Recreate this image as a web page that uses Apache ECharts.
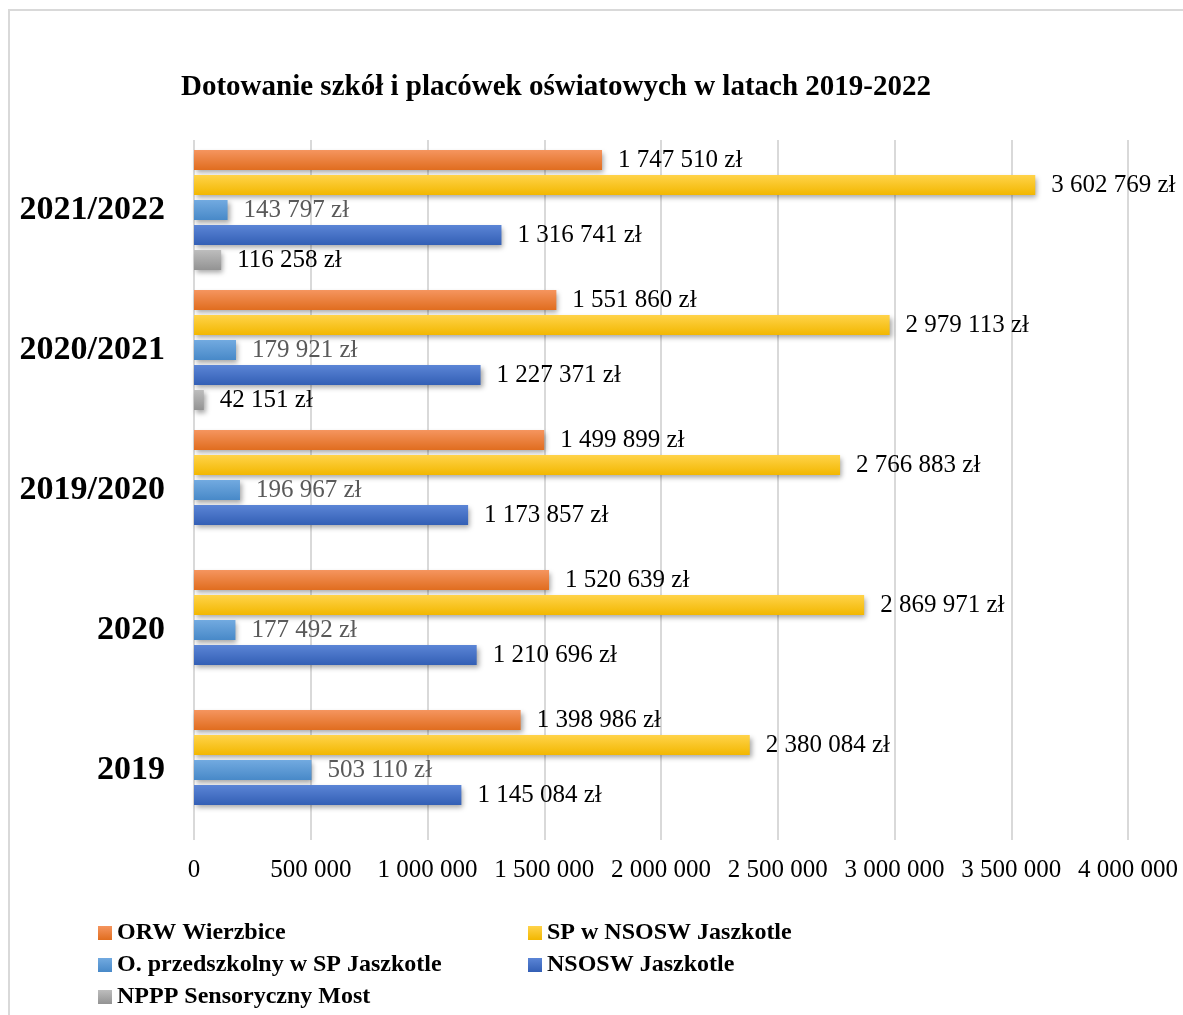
<!DOCTYPE html>
<html>
<head>
<meta charset="utf-8">
<script src="https://cdn.jsdelivr.net/npm/echarts@6/dist/echarts.min.js"></script>
<style>
  html, body { margin: 0; padding: 0; background: #fff; }
  #chart { width: 1183px; height: 1015px; }
</style>
</head>
<body>
<div id="chart"></div>
<script>
const categories = ['2019', '2020', '2019/2020', '2020/2021', '2021/2022'];
const seriesNames = ['ORW Wierzbice', 'SP w NSOSW Jaszkotle', 'O. przedszkolny w SP Jaszkotle', 'NSOSW Jaszkotle', 'NPPP Sensoryczny Most'];
const orwWierzbice = [1398986, 1520639, 1499899, 1551860, 1747510];
const spNsosw = [2380084, 2869971, 2766883, 2979113, 3602769];
const oPrzedszkolny = [503110, 177492, 196967, 179921, 143797];
const nsoswJaszkotle = [1145084, 1210696, 1173857, 1227371, 1316741];
const npppMost = [null, null, null, 42151, 116258];
const xTicks = { min: 0, max: 4000000, interval: 500000 };

const serif = '"Liberation Serif", "DejaVu Serif", serif';

const grad = (top, bottom) => new echarts.graphic.LinearGradient(0, 0, 0, 1, [
  { offset: 0, color: top },
  { offset: 1, color: bottom }
]);

const fmt = v => String(v).replace(/\B(?=(\d{3})+(?!\d))/g, ' ');

const styles = [
  { color: grad('#F5955F', '#E06D1F'), label: '#000' },
  { color: grad('#FFD34A', '#F2B700'), label: '#000' },
  { color: grad('#72AAE0', '#4889C8'), label: '#595959' },
  { color: grad('#5B85D6', '#335FB5'), label: '#000' },
  { color: grad('#BDBDBD', '#939393'), label: '#000' }
];
const dataSets = [orwWierzbice, spNsosw, oPrzedszkolny, nsoswJaszkotle, npppMost];

// legend slots: [left, top] for each series
const legendPos = [[98, 921], [528, 921], [98, 953], [528, 953], [98, 985]];

const chart = echarts.init(document.getElementById('chart'));

const option = {
  backgroundColor: '#fff',
  animation: false,
  title: {
    text: 'Dotowanie szkół i placówek oświatowych w latach 2019-2022',
    left: 176,
    top: 68,
    textStyle: { fontFamily: serif, fontWeight: 'bold', fontSize: 29, color: '#000' }
  },
  graphic: [{
    type: 'rect',
    shape: { x: 9, y: 10, width: 1200, height: 1100 },
    style: { fill: 'none', stroke: '#d9d9d9', lineWidth: 2 },
    silent: true
  }],
  legend: seriesNames.map((name, i) => ({
    left: legendPos[i][0],
    top: legendPos[i][1],
    padding: 0,
    itemWidth: 14,
    itemHeight: 14,
    icon: 'rect',
    data: [name],
    textStyle: { fontFamily: serif, fontWeight: 'bold', fontSize: 24, color: '#000', lineHeight: 22 }
  })),
  grid: { left: 194, right: 55, top: 140, bottom: 175, containLabel: false },
  xAxis: {
    type: 'value',
    min: xTicks.min,
    max: xTicks.max,
    interval: xTicks.interval,
    axisLine: { show: false },
    axisTick: { show: false },
    axisLabel: { fontFamily: serif, fontSize: 25, color: '#000', margin: 18, formatter: v => fmt(v) },
    splitLine: { show: true, lineStyle: { color: '#d9d9d9', width: 2 } }
  },
  yAxis: {
    type: 'category',
    data: categories,
    axisLine: { show: false },
    axisTick: { show: false },
    axisLabel: { fontFamily: serif, fontWeight: 'bold', fontSize: 34, color: '#000', margin: 29 }
  },
  series: seriesNames.map((name, i) => ({
    name,
    type: 'bar',
    data: dataSets[i],
    barGap: '25%',
    barCategoryGap: '14.3%',
    itemStyle: {
      color: styles[i].color,
      shadowColor: 'rgba(0,0,0,0.35)',
      shadowBlur: 5,
      shadowOffsetX: 2,
      shadowOffsetY: 3
    },
    label: {
      show: true,
      position: 'right',
      distance: 16,
      fontFamily: serif,
      fontSize: 25,
      color: styles[i].label,
      formatter: p => fmt(p.value) + ' zł'
    }
  }))
};

chart.setOption(option);
</script>
</body>
</html>
